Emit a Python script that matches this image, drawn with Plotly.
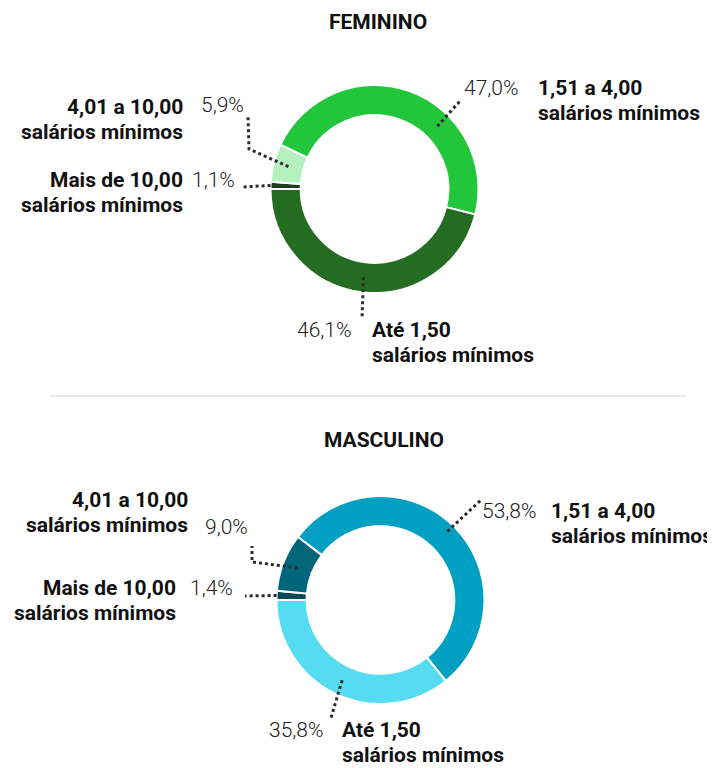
import math
import plotly.graph_objects as go

# ---------------- data ----------------
categories = ["Até 1,50", "1,51 a 4,00", "4,01 a 10,00", "Mais de 10,00"]
unit = "salários mínimos"
feminino = [46.1, 47.0, 5.9, 1.1]
masculino = [35.8, 53.8, 9.0, 1.4]
titles = ["FEMININO", "MASCULINO"]

colors_f = ["#246c22", "#22c63a", "#b5f1be", "#1d3b1e"]
colors_m = ["#55dbf2", "#01a0c3", "#02667a", "#0d4a57"]

# page body has an 8px default margin: figure sized to fill the window exactly
OFF = 8
W, H = 715 - OFF, 768 - OFF
FONT = "Roboto, Noto Sans, sans-serif"
HOLE = 0.71
LINE = 25  # spacing between the two label lines

pies = [
    dict(cx=374.5, cy=189, r=104, values=feminino, colors=colors_f, title=titles[0], ty=22),
    dict(cx=380.5, cy=600, r=104, values=masculino, colors=colors_m, title=titles[1], ty=440),
]

# label layout (window pixels)
layouts = [
    [
        dict(lab=(370, 330, "left"), pct=(354, 330, "right"), lead=[(362, 319)]),
        dict(lab=(536, 88, "left"), pct=(521, 88, "right"), lead=[(461, 100)], ang=45),
        dict(lab=(185, 107, "right"), pct=(199, 105, "left"), lead=[(249, 149), (248, 116)]),
        dict(lab=(185, 180, "right"), pct=(190, 180, "left"), lead=[(243, 187)], rr=1.0),
    ],
    [
        dict(lab=(340, 730, "left"), pct=(326, 730, "right"), lead=[(331, 718)]),
        dict(lab=(549, 511, "left"), pct=(539, 511, "right"), lead=[(481, 500)], rr=0.92),
        dict(lab=(190, 500, "right"), pct=(203, 527, "left"), lead=[(252, 562), (252, 546)]),
        dict(lab=(178, 588, "right"), pct=(188, 588, "left"), lead=[(245, 596)], rr=1.0),
    ],
]


def px(x):
    return (x - OFF) / W


def py(y):
    return 1 - (y - OFF) / H


fig = go.Figure()
shapes = []
annotations = []

for p, lay in zip(pies, layouts):
    cx, cy, r = p["cx"], p["cy"], p["r"]
    # clockwise from 9 o'clock, drawing the categories from last to first
    fig.add_trace(go.Pie(
        labels=categories[::-1], values=p["values"][::-1], hole=HOLE, sort=False,
        direction="clockwise", rotation=270,
        marker=dict(colors=p["colors"][::-1], line=dict(color="white", width=2)),
        textinfo="none", hoverinfo="label+percent", showlegend=False,
        domain=dict(x=[px(cx - r), px(cx + r)], y=[py(cy + r), py(cy - r)]),
    ))
    annotations.append(dict(
        x=px(cx + 3), y=py(p["ty"]), xref="paper", yref="paper",
        text="<b>%s</b>" % p["title"], showarrow=False,
        font=dict(family=FONT, size=21, color="#111"), xanchor="center", yanchor="middle",
    ))
    total = sum(p["values"])
    start = 180.0
    for cat, v, L in zip(categories, p["values"], lay):
        span = 360.0 * v / total
        mid = start + span / 2
        start += span
        ang = L.get("ang", mid)
        rr = L.get("rr", (1 + HOLE) / 2)
        rx = cx + r * rr * math.cos(math.radians(ang))
        ry = cy - r * rr * math.sin(math.radians(ang))
        pts = [(rx, ry)] + L["lead"]
        path = "M %f,%f " % (px(pts[0][0]), py(pts[0][1])) + " ".join(
            "L %f,%f" % (px(a), py(b)) for a, b in pts[1:])
        shapes.append(dict(type="path", xref="paper", yref="paper", path=path,
                           line=dict(color="#2b2b2b", width=3, dash="dot"), layer="above"))
        lx, ly, la = L["lab"]
        for k, line_text in enumerate([cat, unit]):
            annotations.append(dict(
                x=px(lx), y=py(ly + k * LINE), xref="paper", yref="paper",
                text="<b>%s</b>" % line_text, showarrow=False,
                xanchor=la, yanchor="middle", font=dict(family=FONT, size=21, color="#111"),
            ))
        qx, qy, qa = L["pct"]
        annotations.append(dict(
            x=px(qx), y=py(qy), xref="paper", yref="paper",
            text=("%.1f%%" % v).replace(".", ","), showarrow=False,
            xanchor=qa, yanchor="middle",
            font=dict(family=FONT, size=21, color="#222", weight=300),
        ))

shapes.append(dict(type="line", xref="paper", yref="paper", x0=px(50), x1=px(686),
                   y0=py(396), y1=py(396), line=dict(color="#ececec", width=2), layer="below"))

fig.update_layout(
    width=W, height=H, margin=dict(l=0, r=0, t=0, b=0),
    paper_bgcolor="white", plot_bgcolor="white",
    shapes=shapes, annotations=annotations, showlegend=False,
)
fig.write_html("out.html")
